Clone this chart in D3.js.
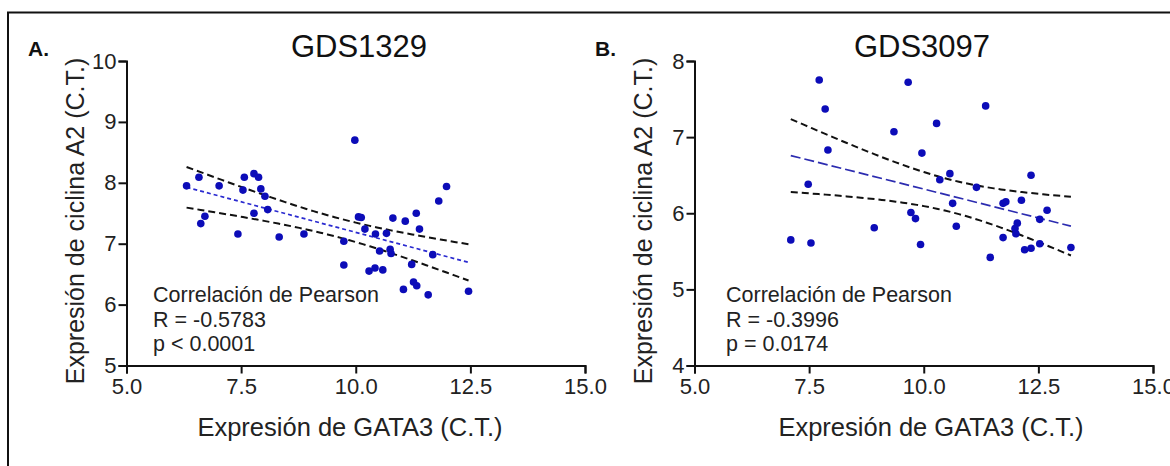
<!DOCTYPE html>
<html>
<head>
<meta charset="utf-8">
<script src="https://cdn.jsdelivr.net/npm/d3@7"></script>
<style>
  body { margin: 0; background: #fff; }
  svg { display: block; font-family: "Liberation Sans", Arial, sans-serif; }
</style>
</head>
<body>
<div id="chart"></div>
<script>
// panel A: GDS1329
const gataA = [6.31, 6.58, 6.62, 6.71, 7.02, 7.43, 7.57, 7.54, 7.78, 7.88, 7.78, 7.93, 8.02, 8.08, 8.33,
  8.87, 9.74, 9.74, 9.98, 10.06, 10.12, 10.20, 10.29, 10.43, 10.42, 10.52, 10.59, 10.67, 10.75, 10.77,
  10.81, 11.08, 11.04, 11.22, 11.26, 11.33, 11.32, 11.39, 11.58, 11.68, 11.81, 11.98, 12.46];
const ciclinaA = [7.95, 8.09, 7.33, 7.45, 7.95, 7.16, 8.09, 7.88, 8.15, 8.09, 7.50, 7.90, 7.78, 7.56, 7.11,
  7.16, 7.04, 6.65, 8.70, 7.44, 7.43, 7.24, 6.55, 7.16, 6.60, 6.88, 6.57, 7.17, 6.91, 6.84,
  7.42, 7.37, 6.25, 6.66, 6.37, 6.31, 7.50, 7.24, 6.16, 6.82, 7.70, 7.94, 6.22];

// panel B: GDS3097
const gataB = [7.72, 7.85, 7.91, 7.48, 7.10, 7.54, 8.92, 9.66, 9.35, 10.28, 9.96, 11.35, 10.35, 10.57, 11.15,
  12.34, 10.63, 9.72, 9.82, 10.71, 9.93, 11.73, 11.79, 12.13, 12.69, 12.53, 12.04, 11.99, 12.01, 11.73,
  12.20, 12.34, 12.53, 13.21, 11.45];
const ciclinaB = [7.75, 7.37, 6.83, 6.38, 5.65, 5.61, 5.81, 7.72, 7.07, 7.18, 6.79, 7.41, 6.44, 6.52, 6.34,
  6.50, 6.13, 6.01, 5.93, 5.83, 5.59, 6.13, 6.15, 6.17, 6.04, 5.92, 5.87, 5.80, 5.73, 5.68,
  5.52, 5.54, 5.60, 5.55, 5.42];

const xTicks = [5, 7.5, 10, 12.5, 15];
const yTicksA = [5, 6, 7, 8, 9, 10];
const yTicksB = [4, 5, 6, 7, 8];

const W = 1170, H = 466;
const FONT = "Liberation Sans, Arial, sans-serif";
const svg = d3.select("#chart").append("svg").attr("width", W).attr("height", H);

// frame, cut off at right and bottom like the source image
svg.append("rect")
  .attr("x", 8).attr("y", 12.5)
  .attr("width", 1300).attr("height", 600)
  .attr("fill", "none").attr("stroke", "#111").attr("stroke-width", 2);

const fit = (xs, ys, tCrit) => {
  const n = xs.length;
  const mx = d3.mean(xs), my = d3.mean(ys);
  const sxx = d3.sum(xs, (v) => (v - mx) ** 2);
  const sxy = d3.sum(xs, (v, i) => (v - mx) * (ys[i] - my));
  const b = sxy / sxx, a = my - b * mx;
  const sse = d3.sum(xs, (v, i) => (ys[i] - a - b * v) ** 2);
  const s = Math.sqrt(sse / (n - 2));
  const [x0, x1] = d3.extent(xs);
  const grid = d3.range(0, 41).map((k) => x0 + (x1 - x0) * k / 40);
  const band = (sign) => grid.map((v) => [v, a + b * v + sign * tCrit * s * Math.sqrt(1 / n + (v - mx) ** 2 / sxx)]);
  return { line: [[x0, a + b * x0], [x1, a + b * x1]], upper: band(1), lower: band(-1) };
};

const styleAxis = (a) => {
  a.select(".domain").attr("stroke-width", 2).attr("stroke", "#111");
  a.selectAll(".tick line").attr("stroke-width", 2).attr("stroke", "#111");
  a.selectAll("text").attr("font-size", 22).attr("fill", "#222").attr("font-family", FONT);
};

const drawPanel = (cfg) => {
  const x = d3.scaleLinear().domain([5, 15]).range([cfg.left, cfg.left + 458.5]);
  const y = d3.scaleLinear().domain(cfg.yDomain).range([365.5, 61]);

  const g = svg.append("g");

  g.append("g")
    .attr("transform", "translate(0,365.5)")
    .call(d3.axisBottom(x).tickValues(xTicks).tickFormat(d3.format(".1f")).tickSize(8).tickPadding(5))
    .call(styleAxis);

  g.append("g")
    .attr("transform", `translate(${cfg.left},0)`)
    .call(d3.axisLeft(y).tickValues(cfg.yTicks).tickFormat(d3.format("d")).tickSize(8).tickPadding(2))
    .call(styleAxis);

  const f = fit(cfg.xs, cfg.ys, cfg.t);
  const line = d3.line().x((d) => x(d[0])).y((d) => y(d[1]));

  g.append("path").attr("d", line(f.upper)).attr("fill", "none")
    .attr("stroke", "#111").attr("stroke-width", 2).attr("stroke-dasharray", "7,4");
  g.append("path").attr("d", line(f.lower)).attr("fill", "none")
    .attr("stroke", "#111").attr("stroke-width", 2).attr("stroke-dasharray", "7,4");
  g.append("path").attr("d", line(f.line)).attr("fill", "none")
    .attr("stroke", cfg.fitColor).attr("stroke-width", 1.7).attr("stroke-dasharray", cfg.dash);

  g.selectAll("circle")
    .data(cfg.xs.map((v, i) => [v, cfg.ys[i]]))
    .join("circle")
    .attr("cx", (d) => x(d[0]))
    .attr("cy", (d) => y(d[1]))
    .attr("r", 3.8)
    .attr("fill", "#0c0cb8");

  g.append("text").attr("x", cfg.titleX).attr("y", 57)
    .attr("text-anchor", "middle").attr("font-size", 31).attr("fill", "#111").text(cfg.title);

  g.append("text").attr("x", cfg.letterX).attr("y", 56)
    .attr("font-size", 21).attr("font-weight", "bold").attr("fill", "#111").text(cfg.letter);

  g.append("text")
    .attr("transform", `translate(${cfg.left - 43},${221}) rotate(-90)`)
    .attr("text-anchor", "middle").attr("font-size", 25).attr("fill", "#222")
    .text("Expresión de ciclina A2 (C.T.)");

  g.append("text").attr("x", cfg.labelX).attr("y", 436)
    .attr("text-anchor", "middle").attr("font-size", 25.5).attr("fill", "#222")
    .text("Expresión de GATA3 (C.T.)");

  const notes = ["Correlación de Pearson", cfg.r, cfg.p];
  g.selectAll("text.note")
    .data(notes)
    .join("text")
    .attr("class", "note")
    .attr("x", cfg.noteX)
    .attr("y", (d, i) => 302 + i * 24.5)
    .attr("font-size", 21.5).attr("fill", "#222")
    .text((d) => d);
};

drawPanel({
  left: 126.5, xs: gataA, ys: ciclinaA, yDomain: [5, 10], yTicks: yTicksA, t: 2.020,
  title: "GDS1329", titleX: 359, letter: "A.", letterX: 28, labelX: 350, noteX: 153,
  dash: "4,3", fitColor: "#2a2ad0",
  r: "R = -0.5783", p: "p < 0.0001"
});

drawPanel({
  left: 694.5, xs: gataB, ys: ciclinaB, yDomain: [4, 8], yTicks: yTicksB, t: 2.035,
  title: "GDS3097", titleX: 922, letter: "B.", letterX: 595, labelX: 931, noteX: 726,
  dash: "10,4", fitColor: "#2c2cb0",
  r: "R = -0.3996", p: "p = 0.0174"
});
</script>
</body>
</html>
